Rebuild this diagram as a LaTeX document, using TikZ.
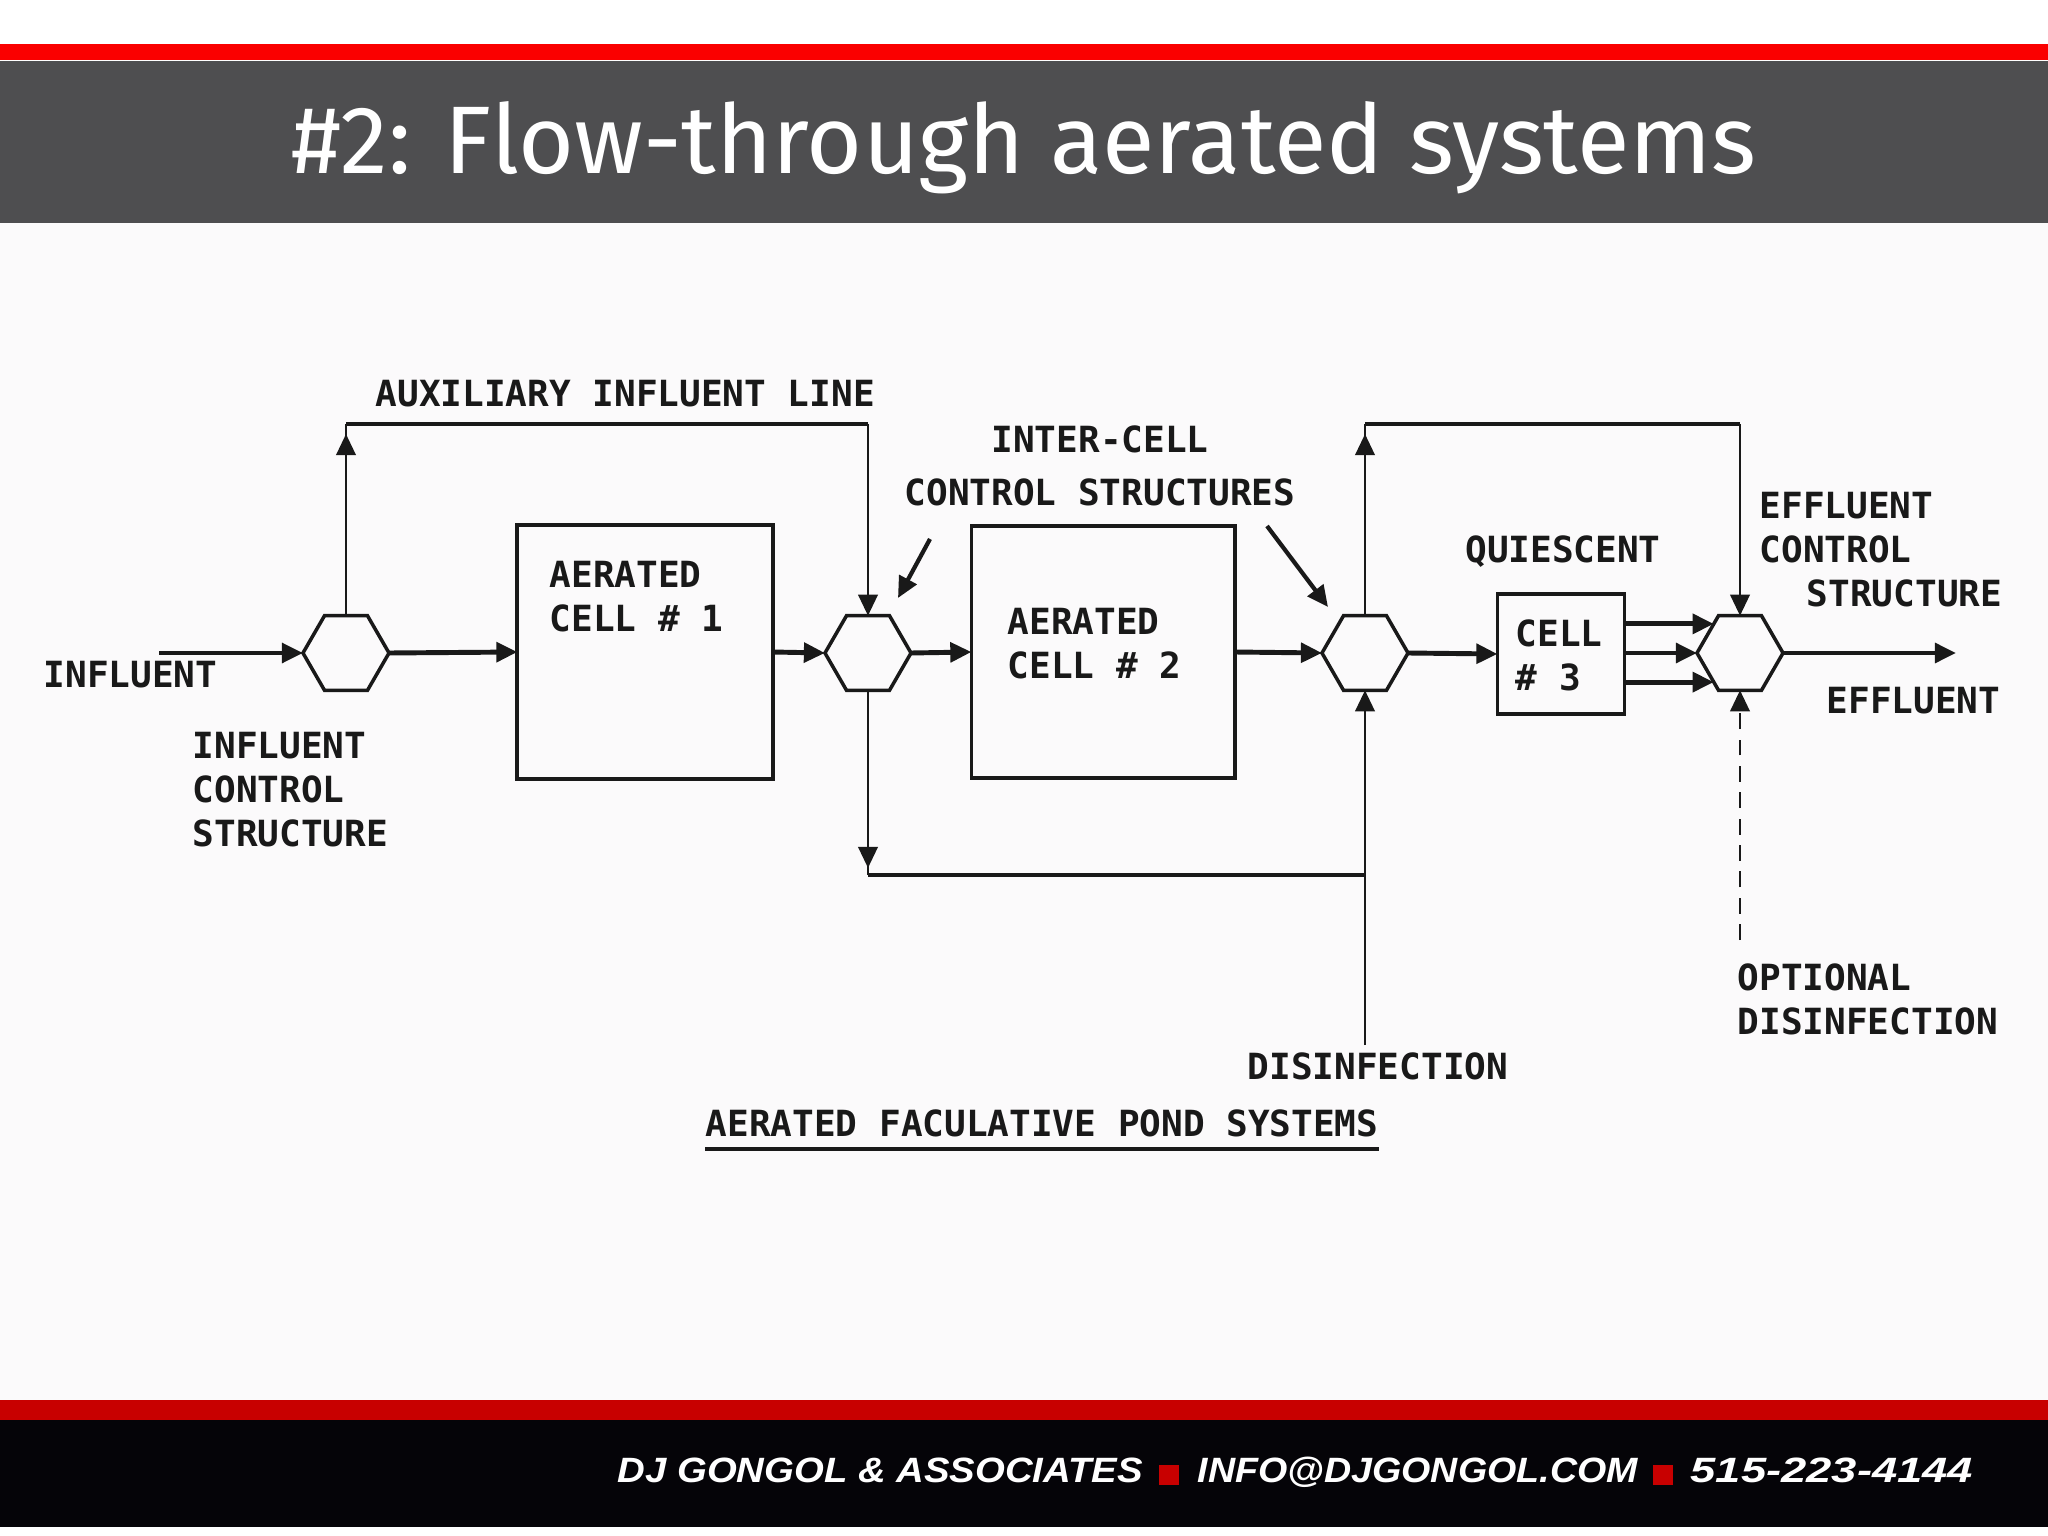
\documentclass[tikz,border=0pt]{standalone}
\usepackage{fontspec}
\usepackage{tkz-euclide}
\usetikzlibrary{arrows.meta,shapes.geometric,positioning}
\newfontfamily\titlefont{Fira Sans}
\newfontfamily\plotfont{DejaVu Sans Mono}
\newfontfamily\footfont{Liberation Sans}
\definecolor{barred}{RGB}{250,0,0}
\definecolor{footred}{RGB}{200,0,0}
\definecolor{hdrgray}{RGB}{78,78,80}
\definecolor{footblack}{RGB}{5,4,8}
\definecolor{paper}{RGB}{251,250,251}
\definecolor{ink}{RGB}{25,25,25}
\tikzset{
  pipe/.style={draw=ink,line width=0.8pt},
  main/.style={draw=ink,line width=1.4pt},
  flow/.style={main,-{Triangle[length=6pt,width=5.5pt]}},
  feed/.style={pipe,-{Triangle[length=6pt,width=5.5pt]}},
  hexa/.style={regular polygon,regular polygon sides=6,draw=ink,line width=1pt,
    minimum size=0.86cm,inner sep=0pt,outer sep=0pt},
  cellbox/.style={rectangle,draw=ink,line width=1.1pt,inner sep=0pt,outer sep=0pt},
  lbl/.style={font=\plotfont\bfseries\fontsize{10.25}{12.5}\selectfont,text=ink,
    inner sep=0pt,align=left},
  ftxt/.style={font=\footfont\bfseries\itshape\fontsize{10}{12}\selectfont,
    text=white,anchor=base west,inner sep=0pt},
}

\begin{document}
\begin{tikzpicture}[x=0.01cm,y=0.01cm]
  \useasboundingbox (0,0) rectangle (2048,1535);
  % slide frame
  \fill[white] (0,0) rectangle (2048,1535);
  \fill[paper] (0,135) rectangle (2048,1312);
  \fill[barred] (0,1475) rectangle (2048,1491);
  \fill[hdrgray] (0,1312) rectangle (2048,1474);
  \fill[footred] (0,115) rectangle (2048,135);
  \fill[footblack] (0,8) rectangle (2048,115);
  \node[font=\titlefont\fontsize{27.3}{30}\selectfont,text=white,anchor=base] (title) at (1024,1361) {\#2: Flow-through aerated systems};

  % control structures and cells
  \node[hexa] (infctl) at (346,882) {};
  \node[cellbox,minimum width=2.55cm,minimum height=2.53cm] (cella) at (645,883) {};
  \node[hexa] (ictla) at (868,882) {};
  \node[cellbox,minimum width=2.63cm,minimum height=2.52cm] (cellb) at (1103,883) {};
  \node[hexa] (ictlb) at (1365,882) {};
  \node[cellbox,minimum width=1.27cm,minimum height=1.20cm] (cellc) at (1561,881) {};
  \node[hexa] (effctl) at (1740,882) {};

  % free ends
  \tkzDefPoint(159,882){inflow}
  \tkzDefPoint(1956,882){outflow}
  \tkzDefPoint(346,1111){auxa}
  \tkzDefPoint(868,1111){auxb}
  \tkzDefPoint(1365,1111){bypa}
  \tkzDefPoint(1740,1111){bypb}
  \tkzDefPoint(868,660){lowa}
  \tkzDefPoint(1365,660){lowb}
  \tkzDefPoint(1365,490){disin}
  \tkzDefPoint(1740,595){optdis}
  \tkzDefPoint(930,996){ptra}
  \tkzDefPoint(898,937){ptrb}
  \tkzDefPoint(1267,1009){ptrc}
  \tkzDefPoint(1328,928){ptrd}

  % main line
  \draw[flow] (inflow) -- (infctl.west);
  \draw[flow] (infctl.east) -- (cella.west);
  \draw[flow] (cella.east) -- (ictla.west);
  \draw[flow] (ictla.east) -- (cellb.west);
  \draw[flow] (cellb.east) -- (ictlb.west);
  \draw[flow] (ictlb.east) -- (cellc.west);
  \draw[flow] (cellc.east |- effctl.132) -- (effctl.132);
  \draw[flow] (cellc.east |- effctl.west) -- (effctl.west);
  \draw[flow] (cellc.east |- effctl.228) -- (effctl.228);
  \draw[flow] (effctl.east) -- (outflow);

  % auxiliary influent line
  \draw[pipe] (infctl.north) -- (auxa);
  \draw[feed] (infctl.north) -- ([yshift=-0.1cm]auxa);
  \draw[main] (auxa) -- (auxb);
  \draw[feed] (auxb) -- (ictla.north);

  % bypass round the quiescent cell
  \draw[pipe] (ictlb.north) -- (bypa);
  \draw[feed] (ictlb.north) -- ([yshift=-0.1cm]bypa);
  \draw[main] (bypa) -- (bypb);
  \draw[feed] (bypb) -- (effctl.north);

  % lower line and disinfection
  \draw[pipe] (ictla.south) -- (lowa);
  \draw[feed] (ictla.south) -- ([yshift=0.07cm]lowa);
  \draw[main] (lowa) -- (lowb);
  \draw[feed] (disin) -- (ictlb.south);
  \draw[feed,dash pattern=on 4.5pt off 3pt] (optdis) -- (effctl.south);

  % pointers
  \draw[feed,line width=1.2pt] (ptra) -- (ptrb);
  \draw[feed,line width=1.2pt] (ptrc) -- (ptrd);

  % labels
  \node[lbl,anchor=west] (inlbl) at (43,860) {INFLUENT};
  \node[lbl,anchor=west] (infctllbl) at (192,745) {INFLUENT\\CONTROL\\STRUCTURE};
  \node[lbl,anchor=west] (auxlbl) at (375,1141) {AUXILIARY INFLUENT LINE};
  \node[lbl,anchor=west] (cellalbl) at (549,938) {AERATED\\CELL \# 1};
  \node[lbl,align=center,font=\plotfont\bfseries\fontsize{10.25}{15.1}\selectfont] (icslbl) at (1100,1069) {INTER-CELL\\CONTROL STRUCTURES};
  \node[lbl,anchor=west] (cellblbl) at (1007,891) {AERATED\\CELL \# 2};
  \node[lbl] (quilbl) at (1563,983) {QUIESCENT};
  \node[lbl,anchor=west] (cellclbl) at (1515,880) {CELL\\\# 3};
  \node[lbl,anchor=west] (effctllbl) at (1759,985) {EFFLUENT\\CONTROL\\\hspace*{13.4pt}STRUCTURE};
  \node[lbl,anchor=west] (outlbl) at (1826,834) {EFFLUENT};
  \node[lbl,anchor=west] (optlbl) at (1737,536) {OPTIONAL\\DISINFECTION};
  \node[lbl,anchor=west] (dislbl) at (1247,469) {DISINFECTION};
  \node[lbl,anchor=west] (syslbl) at (705,412) {AERATED FACULATIVE POND SYSTEMS};
  \draw[main] ([yshift=-0.26cm]syslbl.west) -- ([yshift=-0.26cm]syslbl.east);

  % footer
  \node[ftxt] (firm) at (617,53) {\scalebox{1.09}[1]{DJ GONGOL \& ASSOCIATES}};
  \fill[footred] (1159,50) rectangle (1179,70);
  \node[ftxt] (mail) at (1197,53) {\scalebox{1.07}[1]{INFO@DJGONGOL.COM}};
  \fill[footred] (1653,50) rectangle (1673,70);
  \node[ftxt] (phone) at (1690,53) {\scalebox{1.29}[1]{515-223-4144}};
\end{tikzpicture}
\end{document}
